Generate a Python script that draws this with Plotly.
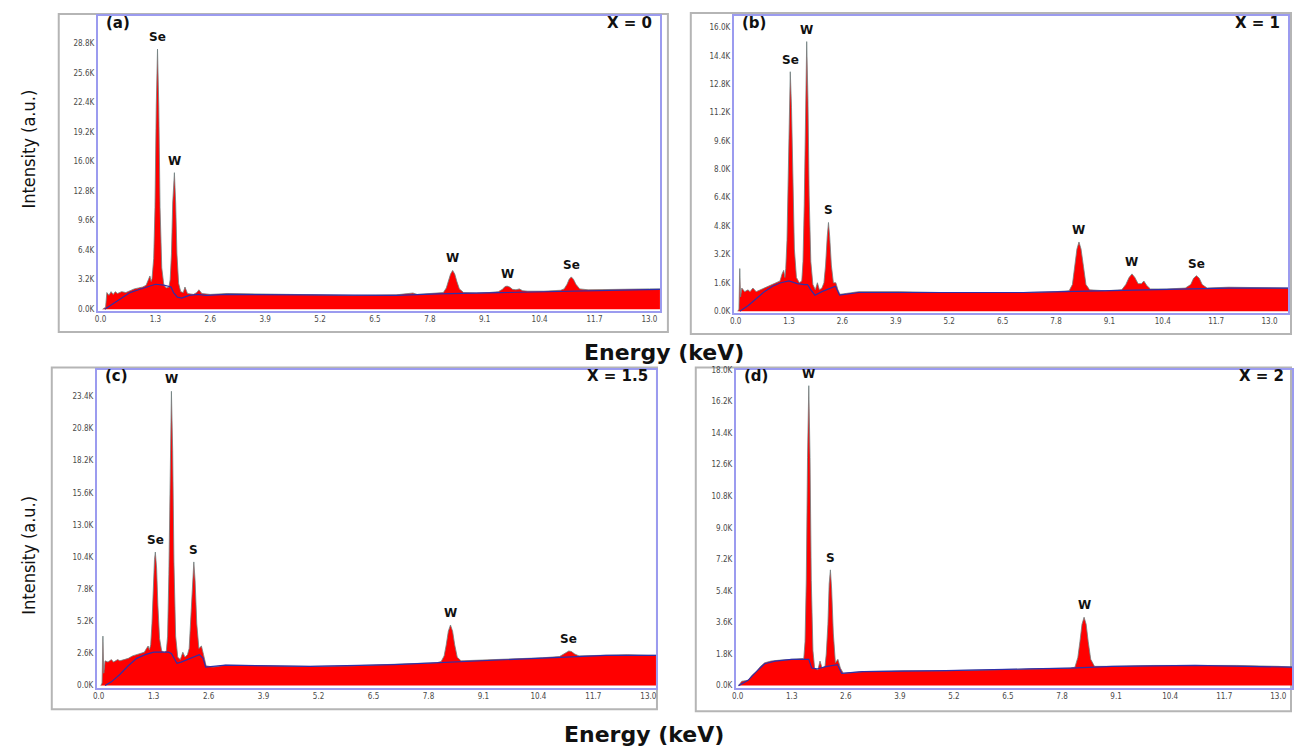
import plotly.graph_objects as go

W, H = 1294, 749

# ---------------- data (energy in keV, intensity in K counts) ----------------
# panel (a) x = 0
energy_a = [0.05, 0.12, 0.15, 0.2, 0.25, 0.3, 0.35, 0.4, 0.5, 0.6, 0.7, 0.8, 0.9, 1.0, 1.08, 1.13, 1.17, 1.2,
            1.22, 1.26, 1.29, 1.32, 1.35, 1.38, 1.41, 1.45, 1.5, 1.56,
            1.62, 1.65, 1.68, 1.71, 1.75, 1.78, 1.81, 1.85, 1.9,
            1.96, 2.0, 2.06, 2.2, 2.28, 2.33, 2.4, 2.6, 3.0, 4.0, 5.0, 6.0, 7.0, 7.3, 7.4, 7.5, 8.0,
            8.12, 8.19, 8.24, 8.29, 8.34, 8.39, 8.44, 8.5, 8.6,
            8.9, 9.2, 9.42, 9.52, 9.58, 9.63, 9.69, 9.76, 9.84, 9.92, 10.0, 10.12, 10.5, 10.9,
            10.98, 11.05, 11.1, 11.15, 11.2, 11.26, 11.35, 11.55, 12.0, 12.5, 13.0, 13.3]
counts_a = [0.0, 0.2, 1.8, 1.5, 1.9, 1.6, 1.9, 1.7, 1.9, 1.8, 2.0, 2.2, 2.3, 2.4, 2.6, 3.3, 3.6, 3.0,
            3.3, 5.5, 11.0, 22.0, 28.2, 22.0, 11.0, 4.5, 2.6, 2.3,
            2.4, 3.2, 6.0, 11.5, 14.8, 11.5, 6.0, 2.8, 1.9,
            1.8, 2.4, 1.7, 1.6, 1.8, 2.1, 1.7, 1.6, 1.7, 1.65, 1.55, 1.5, 1.55, 1.65, 1.75, 1.6, 1.7,
            1.8, 2.3, 3.0, 3.8, 4.2, 3.8, 3.0, 2.2, 1.8,
            1.75, 1.8, 1.9, 2.15, 2.45, 2.5, 2.4, 2.15, 2.1, 2.2, 2.0, 1.95, 1.95, 2.05,
            2.2, 2.7, 3.25, 3.5, 3.25, 2.7, 2.2, 2.1, 2.15, 2.2, 2.2, 2.2]
bg_energy_a = [0.1, 0.3, 0.5, 0.7, 0.9, 1.1, 1.3, 1.5, 1.67, 1.73, 1.82, 1.92, 2.1, 2.3, 2.5, 3.0, 5.0,
               7.0, 8.0, 9.0, 10.0, 11.0, 12.0, 13.3]
bg_counts_a = [0.0, 0.6, 1.2, 1.8, 2.1, 2.4, 2.7, 2.6, 2.4, 1.8, 1.3, 1.2, 1.5, 1.6, 1.5, 1.6, 1.55,
               1.5, 1.65, 1.75, 1.85, 1.95, 2.05, 2.15]

# panel (b) x = 1
energy_b = [0.05, 0.08, 0.1, 0.12, 0.15, 0.22, 0.3, 0.35, 0.42, 0.5, 0.6, 0.7, 0.8, 0.9, 1.0, 1.08, 1.13,
            1.17, 1.2,
            1.22, 1.25, 1.28, 1.31, 1.33, 1.36, 1.39, 1.43, 1.48, 1.55,
            1.61, 1.64, 1.67, 1.7, 1.73, 1.76, 1.79, 1.83, 1.88,
            1.94, 1.99, 2.04, 2.1,
            2.15, 2.19, 2.23, 2.26, 2.29, 2.33, 2.38, 2.44, 2.49, 2.54,
            2.7, 3.0, 4.0, 5.0, 6.0, 7.0, 7.8,
            8.12, 8.2, 8.25, 8.31, 8.36, 8.41, 8.47, 8.53, 8.62,
            9.0, 9.4, 9.5, 9.58, 9.65, 9.72, 9.8, 9.88, 9.94, 10.01, 10.1, 10.5, 10.95,
            11.08, 11.15, 11.22, 11.29, 11.36, 11.48, 12.0, 13.0, 13.5]
counts_b = [0.0, 0.1, 2.4, 0.8, 1.3, 1.1, 1.2, 1.1, 1.3, 1.1, 1.2, 1.3, 1.4, 1.5, 1.6, 1.7, 2.1,
            2.3, 1.9,
            2.4, 4.0, 8.0, 12.0, 13.5, 11.5, 7.0, 3.5, 1.9, 1.6,
            1.7, 2.8, 6.0, 11.5, 15.2, 12.0, 6.5, 2.8, 1.5,
            1.2, 1.6, 1.2, 1.3,
            1.6, 2.6, 4.2, 5.0, 4.2, 2.6, 1.6, 1.6, 1.2, 0.95,
            1.0, 1.1, 1.1, 1.05, 1.05, 1.05, 1.1,
            1.15, 1.5, 2.5, 3.5, 3.9, 3.5, 2.5, 1.5, 1.2,
            1.15, 1.2, 1.5, 1.9, 2.1, 1.9, 1.55, 1.55, 1.7, 1.45, 1.25, 1.25, 1.3,
            1.5, 1.85, 2.0, 1.85, 1.5, 1.3, 1.35, 1.3, 1.3]
bg_energy_b = [0.1, 0.3, 0.5, 0.7, 0.9, 1.1, 1.3, 1.5, 1.68, 1.75, 1.83, 1.93, 2.1, 2.3, 2.43, 2.53,
               3.0, 5.0, 7.0, 8.0, 9.0, 10.0, 11.0, 12.0, 13.5]
bg_counts_b = [0.0, 0.3, 0.7, 1.1, 1.4, 1.6, 1.7, 1.55, 1.5, 1.5, 1.2, 0.9, 1.1, 1.3, 1.4, 0.9,
               1.05, 1.05, 1.05, 1.1, 1.15, 1.2, 1.25, 1.3, 1.3]

# panel (c) x = 1.5
energy_c = [0.05, 0.08, 0.1, 0.12, 0.15, 0.22, 0.3, 0.35, 0.45, 0.5, 0.6, 0.7, 0.8, 0.9, 1.0, 1.08, 1.13,
            1.17, 1.2,
            1.23, 1.26, 1.29, 1.32, 1.34, 1.37, 1.4, 1.44, 1.49, 1.55,
            1.6, 1.63, 1.66, 1.69, 1.72, 1.75, 1.78, 1.82, 1.87,
            1.93, 1.99, 2.04, 2.1,
            2.14, 2.18, 2.22, 2.25, 2.28, 2.32, 2.37, 2.43, 2.48, 2.54,
            2.7, 3.0, 4.0, 5.0, 6.0, 7.0, 8.0,
            8.1, 8.17, 8.22, 8.27, 8.32, 8.37, 8.42, 8.48, 8.57,
            9.0, 9.5, 10.0, 10.5, 10.9,
            11.0, 11.07, 11.12, 11.18, 11.26, 11.36, 12.0, 12.5, 13.0, 13.25]
counts_c = [0.0, 0.2, 4.0, 1.0, 2.0, 1.9, 2.1, 1.9, 2.1, 2.0, 2.1, 2.2, 2.4, 2.5, 2.6, 2.7, 3.0,
            3.2, 2.9,
            3.3, 5.0, 8.0, 10.2, 10.8, 9.5, 6.5, 3.8, 2.8, 2.7,
            2.8, 4.0, 9.0, 18.0, 23.8, 19.0, 10.0, 4.0, 2.3,
            2.1, 2.7, 2.3, 2.5,
            3.0, 5.5, 8.8, 10.0, 8.5, 5.0, 3.0, 3.2, 2.5, 1.6,
            1.5, 1.65, 1.6, 1.55, 1.6, 1.7, 1.85,
            1.95, 2.4, 3.3, 4.4, 4.9, 4.4, 3.3, 2.3, 2.0,
            2.05, 2.1, 2.2, 2.25, 2.35,
            2.55, 2.75, 2.8, 2.75, 2.55, 2.4, 2.45, 2.5, 2.45, 2.45]
bg_energy_c = [0.15, 0.3, 0.5, 0.7, 0.9, 1.1, 1.3, 1.5, 1.65, 1.72, 1.85, 1.95, 2.15, 2.38, 2.47, 2.53,
               3.0, 5.0, 7.0, 8.0, 9.0, 10.0, 11.0, 12.0, 13.25]
bg_counts_c = [0.0, 0.3, 0.9, 1.6, 2.2, 2.5, 2.7, 2.7, 2.7, 2.6, 1.8, 1.9, 2.2, 2.5, 2.2, 1.5,
               1.65, 1.55, 1.7, 1.85, 2.05, 2.2, 2.35, 2.45, 2.45]

# panel (d) x = 2
energy_d = [0.02, 0.1, 0.25, 0.35, 0.45, 0.55, 0.65, 0.8, 1.0, 1.3, 1.5,
            1.59, 1.62, 1.65, 1.68, 1.71, 1.74, 1.77, 1.81, 1.85,
            1.93, 1.98, 2.03, 2.1,
            2.13, 2.17, 2.2, 2.23, 2.26, 2.3, 2.35, 2.41, 2.47, 2.54,
            3.0, 4.0, 5.0, 6.0, 7.0, 8.0,
            8.11, 8.18, 8.23, 8.28, 8.33, 8.38, 8.43, 8.49, 8.58,
            9.0, 10.0, 11.0, 12.0, 13.0, 13.4]
counts_d = [0.0, 0.25, 0.3, 0.6, 0.8, 1.1, 1.3, 1.4, 1.45, 1.5, 1.5,
            1.55, 2.5, 6.0, 13.0, 17.1, 13.0, 6.0, 2.0, 1.0,
            0.9, 1.4, 1.0, 1.1,
            1.8, 3.5, 5.8, 6.6, 5.5, 3.0, 1.3, 1.5, 1.0, 0.7,
            0.8, 0.85, 0.85, 0.9, 0.95, 1.0,
            1.05, 1.6, 2.5, 3.5, 3.9, 3.5, 2.5, 1.5, 1.1,
            1.1, 1.15, 1.15, 1.15, 1.1, 1.05]
bg_energy_d = [0.02, 0.25, 0.45, 0.65, 0.9, 1.3, 1.71, 1.78, 1.9, 2.15, 2.4, 2.5, 3.0, 5.0, 7.0,
               8.0, 9.0, 11.0, 13.4]
bg_counts_d = [0.0, 0.3, 0.8, 1.25, 1.4, 1.5, 1.5, 1.0, 0.95, 1.1, 1.2, 0.7, 0.8, 0.85, 0.95,
               1.0, 1.1, 1.15, 1.05]

x_ticks = [0.0, 1.3, 2.6, 3.9, 5.2, 6.5, 7.8, 9.1, 10.4, 11.7, 13.0]
y_ticks_a = [0.0, 3.2, 6.4, 9.6, 12.8, 16.0, 19.2, 22.4, 25.6, 28.8]
y_ticks_b = [0.0, 1.6, 3.2, 4.8, 6.4, 8.0, 9.6, 11.2, 12.8, 14.4, 16.0]
y_ticks_c = [0.0, 2.6, 5.2, 7.8, 10.4, 13.0, 15.6, 18.2, 20.8, 23.4]
y_ticks_d = [0.0, 1.8, 3.6, 5.4, 7.2, 9.0, 10.8, 12.6, 14.4, 16.2, 18.0]

labels_a = [("Se", 1.35, 28.2), ("W", 1.75, 14.8), ("W", 8.34, 4.2), ("W", 9.65, 2.5), ("Se", 11.15, 3.5)]
labels_b = [("Se", 1.33, 13.5), ("W", 1.73, 15.2), ("S", 2.26, 5.0), ("W", 8.36, 3.9), ("W", 9.65, 2.1),
            ("Se", 11.22, 2.0)]
labels_c = [("Se", 1.34, 10.8), ("W", 1.72, 23.8), ("S", 2.25, 10.0), ("W", 8.32, 4.9), ("Se", 11.12, 2.8)]
labels_d = [("W", 1.71, 17.1), ("S", 2.23, 6.6), ("W", 8.33, 3.9)]

panel_tags = ["(a)", "(b)", "(c)", "(d)"]
compositions = ["X = 0", "X = 1", "X = 1.5", "X = 2"]

# ---------------- layout geometry (pixels) ----------------
def px_x(v):
    return v / W

def px_y(v):
    return 1 - v / H

panels = [
    dict(rect=(94, 12, 659, 310), xr=[-0.07, 13.25], yr=[-0.21, 31.8], yt=y_ticks_a,
         e=energy_a, c=counts_a, be=bg_energy_a, bc=bg_counts_a, lab=labels_a),
    dict(rect=(733, 12, 1290, 312), xr=[-0.05, 13.45], yr=[-0.11, 16.65], yt=y_ticks_b,
         e=energy_b, c=counts_b, be=bg_energy_b, bc=bg_counts_b, lab=labels_b),
    dict(rect=(93, 369, 655, 690), xr=[-0.05, 13.18], yr=[-0.16, 25.56], yt=y_ticks_c,
         e=energy_c, c=counts_c, be=bg_energy_c, bc=bg_counts_c, lab=labels_c),
    dict(rect=(735, 369, 1294, 690), xr=[-0.05, 13.33], yr=[-0.11, 18.02], yt=y_ticks_d,
         e=energy_d, c=counts_d, be=bg_energy_d, bc=bg_counts_d, lab=labels_d),
]
outer_frames = [(55, 10, 667, 331), (690, 9, 1293, 333), (48, 367, 656, 712), (695, 367, 1293, 714)]

tick_font = dict(family="Liberation Sans Narrow, DejaVu Sans Condensed, sans-serif", size=8, color="#4a4a4a")
label_font = dict(family="DejaVu Sans, Verdana, sans-serif", size=12, color="#111111")
tag_font = dict(family="DejaVu Sans, Verdana, sans-serif", size=15, color="#111111")

fig = go.Figure()
shapes = []
annotations = []

for i, p in enumerate(panels):
    n = i + 1
    xa = "x" if n == 1 else f"x{n}"
    ya = "y" if n == 1 else f"y{n}"
    fig.add_trace(go.Scatter(x=p["e"], y=p["c"], mode="lines", fill="tozeroy",
                             fillcolor="#ff0000", line=dict(color="#6f8080", width=0.8),
                             xaxis=xa, yaxis=ya, showlegend=False, hoverinfo="skip"))
    fig.add_trace(go.Scatter(x=p["be"], y=p["bc"], mode="lines",
                             line=dict(color="#2f2fa8", width=1.2),
                             xaxis=xa, yaxis=ya, showlegend=False, hoverinfo="skip"))
    l, t, r, b = p["rect"]
    axis_common = dict(showline=True, mirror=True, linecolor="#9b9bef", linewidth=1.5,
                       showgrid=False, zeroline=False, ticks="", tickfont=tick_font, fixedrange=True)
    fig.layout[f"xaxis{n if n > 1 else ''}"] = dict(
        domain=[px_x(l), px_x(r)], range=p["xr"], anchor=ya,
        tickvals=x_ticks, ticktext=[f"{v:.1f}" for v in x_ticks], **axis_common)
    fig.layout[f"yaxis{n if n > 1 else ''}"] = dict(
        domain=[px_y(b), px_y(t)], range=p["yr"], anchor=xa,
        tickvals=p["yt"], ticktext=[f"{v:.1f}K" for v in p["yt"]], **axis_common)
    ol, ot, orr, ob = outer_frames[i]
    shapes.append(dict(type="rect", xref="paper", yref="paper",
                       x0=px_x(ol), x1=px_x(orr), y0=px_y(ob), y1=px_y(ot),
                       line=dict(color="#b5b5b5", width=2), layer="below"))
    for txt, ex, cy in p["lab"]:
        annotations.append(dict(text=f"<b>{txt}</b>", x=ex, y=cy, xref=xa, yref=ya,
                                showarrow=False, xanchor="center", yanchor="bottom", yshift=3,
                                font=label_font))
    annotations.append(dict(text=f"<b>{panel_tags[i]}</b>", x=px_x(l + 6), y=px_y(t + 7),
                            xref="paper", yref="paper", xanchor="left", yanchor="middle",
                            showarrow=False, font=tag_font))
    annotations.append(dict(text=f"<b>{compositions[i]}</b>", x=px_x(r - 6), y=px_y(t + 7),
                            xref="paper", yref="paper", xanchor="right", yanchor="middle",
                            showarrow=False, font=tag_font))

title_font = dict(family="DejaVu Sans, Verdana, sans-serif", size=22, color="#111111")
ylab_font = dict(family="Liberation Sans Narrow, DejaVu Sans Condensed, sans-serif", size=18, color="#111111")
annotations += [
    dict(text="<b>Energy (keV)</b>", x=px_x(663), y=px_y(352), xref="paper", yref="paper",
         xanchor="center", yanchor="middle", showarrow=False, font=title_font),
    dict(text="<b>Energy (keV)</b>", x=px_x(643), y=px_y(737), xref="paper", yref="paper",
         xanchor="center", yanchor="middle", showarrow=False, font=title_font),
    dict(text="Intensity (a.u.)", x=px_x(25), y=px_y(146), xref="paper", yref="paper",
         xanchor="center", yanchor="middle", showarrow=False, textangle=-90, font=ylab_font),
    dict(text="Intensity (a.u.)", x=px_x(25), y=px_y(556), xref="paper", yref="paper",
         xanchor="center", yanchor="middle", showarrow=False, textangle=-90, font=ylab_font),
]

fig.update_layout(width=W, height=H, margin=dict(l=0, r=0, t=0, b=0),
                  paper_bgcolor="white", plot_bgcolor="white",
                  shapes=shapes, annotations=annotations)

fig.write_html("out.html")
